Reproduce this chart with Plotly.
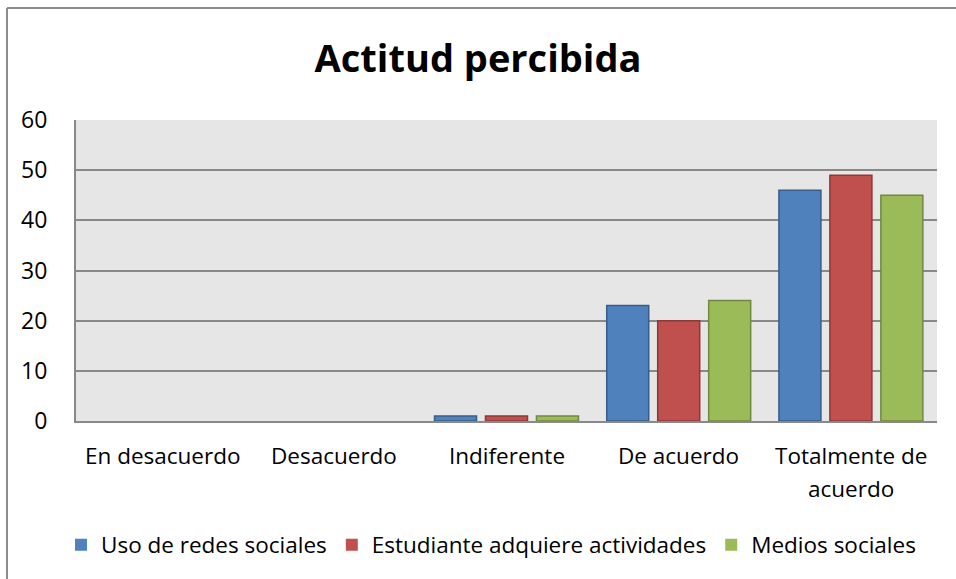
import plotly.graph_objects as go

# Survey responses: perceived attitude
categorias = ["En desacuerdo", "Desacuerdo", "Indiferente", "De acuerdo", "Totalmente de<br>acuerdo"]
uso_redes = [0, 0, 1, 23, 46]
estudiante_actividades = [0, 0, 1, 20, 49]
medios_sociales = [0, 0, 1, 24, 45]

series = [
    ("Uso de redes sociales", uso_redes, "#4f81bd", "#385d8a"),
    ("Estudiante adquiere actividades", estudiante_actividades, "#c0504d", "#8c3836"),
    ("Medios sociales", medios_sociales, "#9bbb59", "#71893f"),
]

FONT = "Open Sans, Calibri, Carlito, sans-serif"
W, H = 956, 579
L, R, T, B = 76, 19, 120, 158
PLOT_H = H - T - B

fig = go.Figure()
for nombre, valores, relleno, borde in series:
    fig.add_trace(go.Bar(
        name=nombre,
        x=categorias,
        y=valores,
        marker=dict(
            color=relleno,
            # empty categories get no outline so nothing shows at zero
            line=dict(color=borde, width=[1.5 if v else 0 for v in valores]),
        ),
    ))

# category labels, one annotation per text line for Excel-like line spacing
annotations = []
for cat in categorias:
    for i, linea in enumerate(cat.split("<br>")):
        y_px = 455 + 33 * i
        annotations.append(dict(
            x=cat, xref="x",
            y=(H - B - y_px) / PLOT_H, yref="paper",
            text=linea, showarrow=False,
            xanchor="center", yanchor="middle",
            font=dict(family=FONT, size=22.5, color="black"),
        ))

fig.update_layout(
    width=W,
    height=H,
    margin=dict(l=L, r=R, t=T, b=B),
    paper_bgcolor="white",
    plot_bgcolor="#e6e6e6",
    barmode="group",
    bargap=0.112,
    bargroupgap=0.176,
    font=dict(family=FONT, size=21, color="black"),
    title=dict(
        text="<b>Actitud percibida</b>",
        font=dict(family=FONT, size=38, color="black"),
        x=0.5, xanchor="center", xref="container",
        y=1 - 59 / H, yref="container", yanchor="middle",
    ),
    legend=dict(
        orientation="h",
        x=491 / W, xanchor="center", xref="container",
        y=1 - 545 / H, yref="container", yanchor="middle",
        font=dict(family=FONT, size=22.5, color="black"),
        itemwidth=30,
        tracegroupgap=0,
    ),
    xaxis=dict(
        showgrid=False,
        showline=True, linecolor="#898989", linewidth=2,
        ticks="", showticklabels=False,
    ),
    yaxis=dict(
        range=[0, 60],
        dtick=10,
        showgrid=True, gridcolor="#898989", gridwidth=2,
        zeroline=False,
        showline=True, linecolor="#898989", linewidth=2,
        ticks="", ticklabelstandoff=22,
        tickfont=dict(family=FONT, size=23, color="black"),
    ),
    annotations=annotations,
    shapes=[
        # chart frame: left and top edges
        dict(type="line", xref="paper", yref="paper",
             x0=(7 - L) / (W - L - R), x1=(7 - L) / (W - L - R),
             y0=(H - B - H) / PLOT_H, y1=(H - B - 8) / PLOT_H,
             line=dict(color="#8c8c8c", width=2)),
        dict(type="line", xref="paper", yref="paper",
             x0=(7 - L) / (W - L - R), x1=(W - L) / (W - L - R),
             y0=(H - B - 8) / PLOT_H, y1=(H - B - 8) / PLOT_H,
             line=dict(color="#8c8c8c", width=2)),
    ],
)

fig.write_html("out.html")
